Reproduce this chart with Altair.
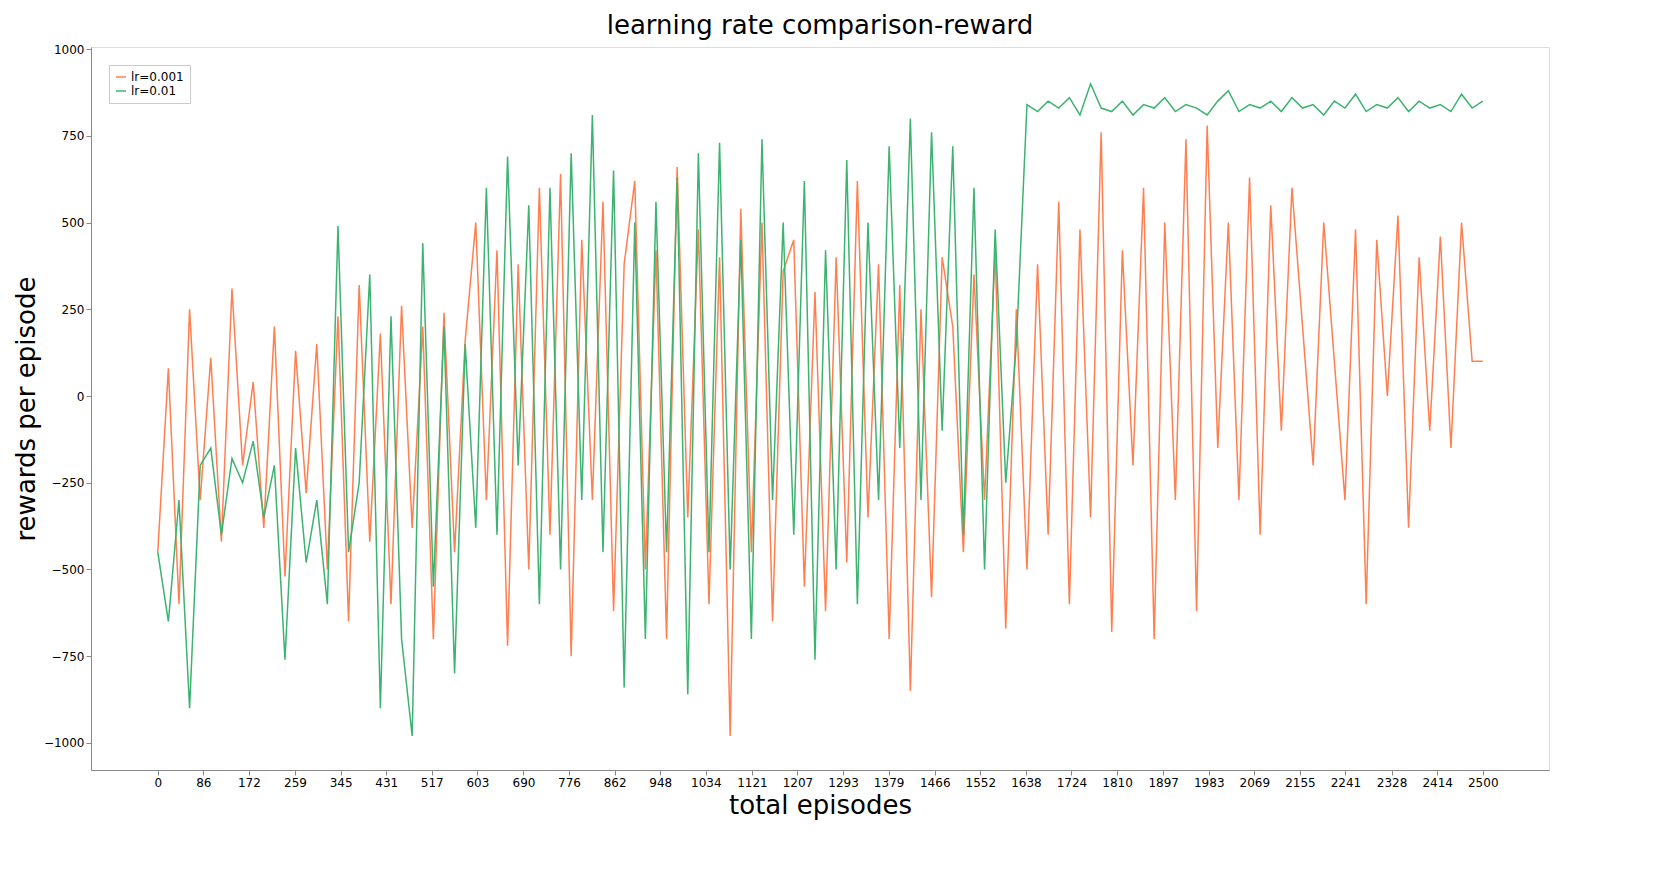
import altair as alt
import pandas as pd

episodes = list(range(0, 2501, 20))
lr001 = [-450,80,-600,250,-300,110,-420,310,-200,40,-380,200,-520,130,-280,
         150,-500,230,-650,320,-420,180,-600,260,-380,200,-700,240,-450,160,
         500,-300,420,-720,380,-500,600,-400,640,-750,450,-300,560,-620,380,
         620,-500,420,-700,660,-350,480,-600,400,-980,540,-450,500,-650,360,
         450,-550,300,-620,400,-480,620,-350,380,-700,320,-850,250,-580,400,
         200,-450,350,-300,420,-670,250,-500,380,-400,560,-600,480,-350,760,
         -680,420,-200,600,-700,500,-300,740,-620,780,-150,500,-300,630,-400,
         550,-100,600,200,-200,500,100,-300,480,-600,450,0,520,-380,400,-100,460,-150,500,100,
         100]
lr01 = [-450,-650,-300,-900,-200,-150,-400,-180,-250,-130,-350,-200,-760,-150,-480,
        -300,-600,490,-450,-250,350,-900,230,-700,-980,440,-550,200,-800,150,
        -380,600,-400,690,-200,550,-600,600,-500,700,-300,810,-450,650,-840,
        500,-700,560,-450,630,-860,700,-450,730,-500,450,-700,740,-300,500,
        -400,620,-760,420,-500,680,-600,500,-300,720,-150,800,-300,760,-100,
        720,-400,600,-500,480,-250,150,
        840,820,850,830,860,810,900,830,820,850,810,840,830,860,820,840,
        830,810,850,880,820,840,830,850,820,860,830,840,810,850,830,870,
        820,840,830,860,820,850,830,840,820,870,830,850]
xticks = [0,86,172,259,345,431,517,603,690,776,862,948,1034,1121,1207,1293,
          1379,1466,1552,1638,1724,1810,1897,1983,2069,2155,2241,2328,2414,2500]

df = pd.concat([
    pd.DataFrame({"ep": episodes, "r": lr001, "s": "lr=0.001"}),
    pd.DataFrame({"ep": episodes, "r": lr01, "s": "lr=0.01"}),
])

chart = alt.Chart(df).mark_line(strokeWidth=1.5).encode(
    x=alt.X("ep:Q", title="total episodes",
            scale=alt.Scale(domain=[-126, 2625], nice=False, zero=False),
            axis=alt.Axis(values=xticks, format="d", labelAngle=0, grid=False, labelFontSize=12,
                          titleFontSize=26, titleFontWeight="normal", labelFlush=False)),
    y=alt.Y("r:Q", title="rewards per episode",
            scale=alt.Scale(domain=[-1078, 1006], nice=False, zero=False),
            axis=alt.Axis(values=list(range(-1000, 1001, 250)), format="d", grid=False,
                          labelFontSize=12, titleFontSize=26, titleFontWeight="normal")),
    color=alt.Color("s:N", title=None,
                    scale=alt.Scale(domain=["lr=0.001", "lr=0.01"], range=["#FF7F50", "#3CB371"]),
                    legend=alt.Legend(orient="top-left", strokeColor="#ccc", padding=6,
                                      labelFontSize=12, symbolType="stroke", fillColor="white")),
).properties(
    width=1458, height=723,
    title=alt.Title("learning rate comparison-reward", fontSize=26, fontWeight="normal"),
).configure_view(stroke="black", strokeWidth=1).configure_axis(
    domainColor="black", tickColor="black", labelColor="black", titleColor="black"
).configure(font="DejaVu Sans")

chart.save("out.html", embed_options={"renderer": "svg", "actions": False})
